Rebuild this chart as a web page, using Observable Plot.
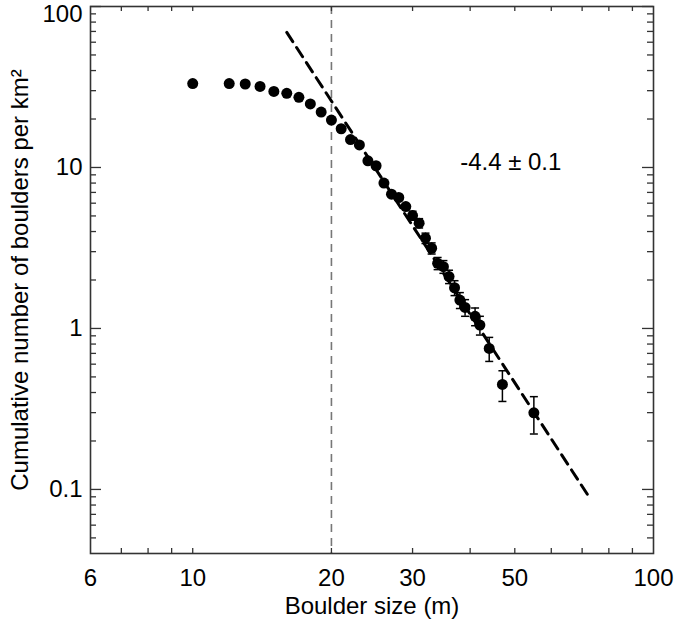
<!DOCTYPE html>
<html><head><meta charset="utf-8">
<script src="https://cdn.jsdelivr.net/npm/d3@7"></script>
<script src="https://cdn.jsdelivr.net/npm/@observablehq/plot@0.6"></script>
<style>html,body{margin:0;padding:0;background:#fff;}</style>
</head><body><div id="chart"></div>
<script>
// Boulder size (m)
const sizes = [10,12,13,14,15,16,17,18,19,20,21,22,23,24,25,26,27,28,29,30,31,32,33,34,35,36,37,38,39,41,42,44,47,55];
// Cumulative number of boulders per km²
const density = [33.2,33.2,33.0,31.9,29.7,28.9,27.3,24.8,22.1,19.7,17.4,14.9,13.8,11.0,10.25,8.0,6.83,6.51,5.72,5.03,4.51,3.64,3.15,2.54,2.42,2.10,1.79,1.50,1.35,1.19,1.05,0.752,0.449,0.299];
// Error bars (±), visible only for the larger sizes
const errors = [null,null,null,null,null,null,null,null,null,null,null,null,null,null,null,null,null,null,null,
  0.32,0.30,0.27,0.25,0.22,0.22,0.20,0.19,0.17,0.16,0.15,0.14,0.128,0.097,0.078];
// Power-law fit (slope -4.4) endpoints
const fitSizes = [16, 73];
const fitDensity = [69, 0.087];
const fitLabel = "-4.4 ± 0.1";
const fitLabelAt = {x: 49, y: 10.8};
const cutoff = [20];
// Axis ticks
const xTickLabels = [6, 10, 20, 30, 50, 100];
const xMinorTicks = [7, 8, 9, 10, 20, 30, 40, 50, 60, 70, 80, 90];
const yTickLabels = [100, 10, 1, 0.1];
const yMinorTicks = [0.05,0.06,0.07,0.08,0.09,0.2,0.3,0.4,0.5,0.6,0.7,0.8,0.9,2,3,4,5,6,7,8,9,20,30,40,50,60,70,80,90];
const xTitle = "Boulder size (m)";
const yTitle = "Cumulative number of boulders per km²";

const W = 675, H = 630, mL = 90, mR = 22, mT = 6, mB = 77;
const plotW = W - mL - mR, plotH = H - mT - mB;
const points = sizes.map((s, i) => ({s, n: density[i], e: errors[i]}));
const withErr = points.filter(d => d.e != null);
const fit = fitSizes.map((s, i) => ({s, n: fitDensity[i]}));
const cap = {draw(ctx, size) { const r = Math.sqrt(size / Math.PI); ctx.moveTo(-r, 0); ctx.lineTo(r, 0); }};
const font = "Helvetica, Arial, 'Liberation Sans', sans-serif";
const fs = 24;
const axisC = "#333";

const chart = Plot.plot({
  width: W, height: H, marginLeft: mL, marginRight: mR, marginTop: mT, marginBottom: mB,
  style: {fontFamily: font, background: "white", color: "black"},
  x: {type: "log", domain: [6, 100], axis: null},
  y: {type: "log", domain: [0.04, 100], axis: null},
  marks: [
    Plot.ruleX(cutoff, {x: d => d, stroke: "#777", strokeWidth: 1.6, strokeDasharray: "8,6"}),
    Plot.tickX(xMinorTicks, {x: d => d, insetTop: plotH - 5, stroke: axisC, strokeWidth: 1.3}),
    Plot.tickX(xMinorTicks, {x: d => d, insetBottom: plotH - 5, stroke: axisC, strokeWidth: 1.3}),
    Plot.tickY(yTickLabels, {y: d => d, insetRight: plotW - 11, stroke: axisC, strokeWidth: 1.3}),
    Plot.tickY(yTickLabels, {y: d => d, insetLeft: plotW - 11, stroke: axisC, strokeWidth: 1.3}),
    Plot.tickY(yMinorTicks, {y: d => d, insetRight: plotW - 6, stroke: axisC, strokeWidth: 1.3}),
    Plot.tickY(yMinorTicks, {y: d => d, insetLeft: plotW - 6, stroke: axisC, strokeWidth: 1.3}),
    Plot.frame({stroke: axisC, strokeWidth: 1.6}),
    Plot.line(fit, {x: "s", y: "n", stroke: "black", strokeWidth: 3, strokeDasharray: "11,7"}),
    Plot.ruleX(withErr, {x: "s", y1: d => d.n - d.e, y2: d => d.n + d.e, stroke: "black", strokeWidth: 1.5}),
    Plot.dot(withErr, {x: "s", y: d => d.n + d.e, symbol: cap, r: 4, fill: "none", stroke: "black", strokeWidth: 1.5}),
    Plot.dot(withErr, {x: "s", y: d => d.n - d.e, symbol: cap, r: 4, fill: "none", stroke: "black", strokeWidth: 1.5}),
    Plot.dot(points, {x: "s", y: "n", r: 5.5, fill: "black", stroke: "none"}),
    Plot.text([fitLabelAt], {x: "x", y: "y", text: () => fitLabel, fontSize: fs, fill: "black"}),
    Plot.text(xTickLabels, {x: d => d, frameAnchor: "bottom", dy: 25, text: d => String(d), fontSize: fs, lineAnchor: "middle", textAnchor: "middle", fill: "black"}),
    Plot.text(yTickLabels.filter(v => v !== 100), {y: d => d, frameAnchor: "left", dx: -8, textAnchor: "end", text: d => String(d), fontSize: fs, lineAnchor: "middle", fill: "black"}),
    Plot.text(yTickLabels.filter(v => v === 100), {y: d => d, frameAnchor: "left", dx: -8, dy: -2, textAnchor: "end", text: d => String(d), fontSize: fs, lineAnchor: "top", fill: "black"}),
    Plot.text([xTitle], {frameAnchor: "bottom", dy: 53, text: d => d, fontSize: fs, lineAnchor: "middle", textAnchor: "middle", fill: "black"}),
    Plot.text([yTitle], {frameAnchor: "left", dx: -70, rotate: -90, text: d => d, fontSize: fs, lineAnchor: "middle", textAnchor: "middle", fill: "black"})
  ]
});
document.getElementById("chart").appendChild(chart);
</script>
</body></html>
